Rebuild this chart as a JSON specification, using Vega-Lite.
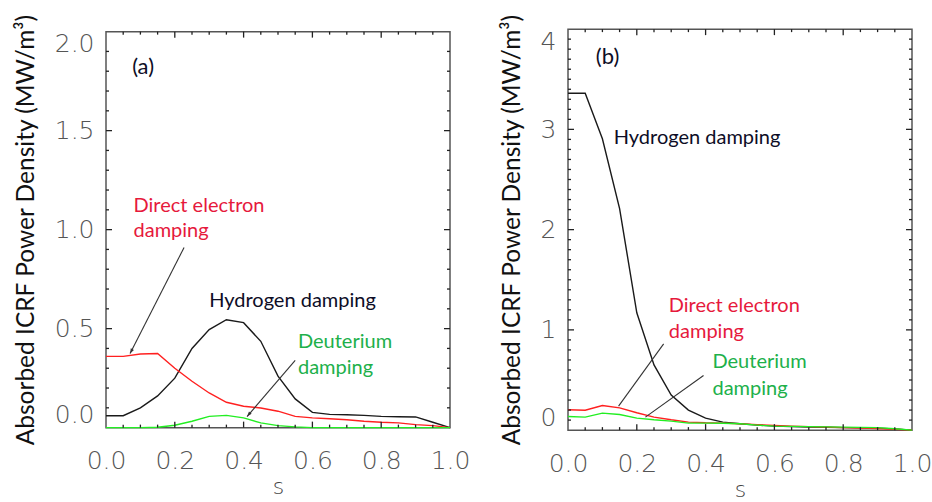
{
  "$schema": "https://vega.github.io/schema/vega-lite/v6.json",
  "background": "white",
  "padding": {"left": 12, "top": 12, "right": 5, "bottom": 0},
  "spacing": 27,
  "center": true,
  "config": {
    "view": {"stroke": "#555", "strokeWidth": 1.5},
    "axis": {
      "domain": false, "grid": false, "ticks": false,
      "labelFont": "DejaVu Sans", "labelFontSize": 25, "labelFontWeight": 200, "labelColor": "#555",
      "titleFont": "Lato", "titleFontWeight": "normal", "titleColor": "#111"
    }
  },
  "datasets": {
    "xt": [
      {"s": 0.05, "k": "m"}, {"s": 0.1, "k": "m"}, {"s": 0.15, "k": "m"}, {"s": 0.2, "k": "M"}, {"s": 0.25, "k": "m"}, {"s": 0.3, "k": "m"}, {"s": 0.35, "k": "m"}, {"s": 0.4, "k": "M"}, {"s": 0.45, "k": "m"}, {"s": 0.5, "k": "m"}, {"s": 0.55, "k": "m"}, {"s": 0.6, "k": "M"}, {"s": 0.65, "k": "m"}, {"s": 0.7, "k": "m"}, {"s": 0.75, "k": "m"}, {"s": 0.8, "k": "M"}, {"s": 0.85, "k": "m"}, {"s": 0.9, "k": "m"}, {"s": 0.95, "k": "m"}
    ],
    "a_yt": [
      {"v": 0.1, "k": "m"}, {"v": 0.2, "k": "m"}, {"v": 0.3, "k": "m"}, {"v": 0.4, "k": "m"}, {"v": 0.5, "k": "M"}, {"v": 0.6, "k": "m"}, {"v": 0.7, "k": "m"}, {"v": 0.8, "k": "m"}, {"v": 0.9, "k": "m"}, {"v": 1.0, "k": "M"}, {"v": 1.1, "k": "m"}, {"v": 1.2, "k": "m"}, {"v": 1.3, "k": "m"}, {"v": 1.4, "k": "m"}, {"v": 1.5, "k": "M"}, {"v": 1.6, "k": "m"}, {"v": 1.7, "k": "m"}, {"v": 1.8, "k": "m"}, {"v": 1.9, "k": "m"}
    ],
    "b_yt": [
      {"v": 0.1, "k": "m"}, {"v": 0.2, "k": "m"}, {"v": 0.3, "k": "m"}, {"v": 0.4, "k": "m"}, {"v": 0.5, "k": "m"}, {"v": 0.6, "k": "m"}, {"v": 0.7, "k": "m"}, {"v": 0.8, "k": "m"}, {"v": 0.9, "k": "m"}, {"v": 1.0, "k": "M"},
      {"v": 1.1, "k": "m"}, {"v": 1.2, "k": "m"}, {"v": 1.3, "k": "m"}, {"v": 1.4, "k": "m"}, {"v": 1.5, "k": "m"}, {"v": 1.6, "k": "m"}, {"v": 1.7, "k": "m"}, {"v": 1.8, "k": "m"}, {"v": 1.9, "k": "m"}, {"v": 2.0, "k": "M"},
      {"v": 2.1, "k": "m"}, {"v": 2.2, "k": "m"}, {"v": 2.3, "k": "m"}, {"v": 2.4, "k": "m"}, {"v": 2.5, "k": "m"}, {"v": 2.6, "k": "m"}, {"v": 2.7, "k": "m"}, {"v": 2.8, "k": "m"}, {"v": 2.9, "k": "m"}, {"v": 3.0, "k": "M"},
      {"v": 3.1, "k": "m"}, {"v": 3.2, "k": "m"}, {"v": 3.3, "k": "m"}, {"v": 3.4, "k": "m"}, {"v": 3.5, "k": "m"}, {"v": 3.6, "k": "m"}, {"v": 3.7, "k": "m"}, {"v": 3.8, "k": "m"}, {"v": 3.9, "k": "m"}
    ],
    "a_lines": [
      {"s": 0, "v": 0.06, "series": "Hydrogen"}, {"s": 0.05, "v": 0.06, "series": "Hydrogen"}, {"s": 0.1, "v": 0.1, "series": "Hydrogen"}, {"s": 0.15, "v": 0.16, "series": "Hydrogen"}, {"s": 0.2, "v": 0.25, "series": "Hydrogen"}, {"s": 0.25, "v": 0.4, "series": "Hydrogen"}, {"s": 0.3, "v": 0.495, "series": "Hydrogen"}, {"s": 0.35, "v": 0.545, "series": "Hydrogen"}, {"s": 0.4, "v": 0.53, "series": "Hydrogen"}, {"s": 0.45, "v": 0.436, "series": "Hydrogen"}, {"s": 0.5, "v": 0.26, "series": "Hydrogen"}, {"s": 0.55, "v": 0.145, "series": "Hydrogen"}, {"s": 0.6, "v": 0.077, "series": "Hydrogen"}, {"s": 0.65, "v": 0.067, "series": "Hydrogen"}, {"s": 0.7, "v": 0.065, "series": "Hydrogen"}, {"s": 0.75, "v": 0.062, "series": "Hydrogen"}, {"s": 0.8, "v": 0.057, "series": "Hydrogen"}, {"s": 0.85, "v": 0.055, "series": "Hydrogen"}, {"s": 0.9, "v": 0.054, "series": "Hydrogen"}, {"s": 0.95, "v": 0.027, "series": "Hydrogen"}, {"s": 1.0, "v": 0.0, "series": "Hydrogen"},
      {"s": 0, "v": 0.36, "series": "Electron"}, {"s": 0.05, "v": 0.36, "series": "Electron"}, {"s": 0.1, "v": 0.372, "series": "Electron"}, {"s": 0.15, "v": 0.374, "series": "Electron"}, {"s": 0.2, "v": 0.3, "series": "Electron"}, {"s": 0.25, "v": 0.234, "series": "Electron"}, {"s": 0.3, "v": 0.175, "series": "Electron"}, {"s": 0.35, "v": 0.128, "series": "Electron"}, {"s": 0.4, "v": 0.108, "series": "Electron"}, {"s": 0.45, "v": 0.099, "series": "Electron"}, {"s": 0.5, "v": 0.083, "series": "Electron"}, {"s": 0.55, "v": 0.057, "series": "Electron"}, {"s": 0.6, "v": 0.049, "series": "Electron"}, {"s": 0.65, "v": 0.045, "series": "Electron"}, {"s": 0.7, "v": 0.04, "series": "Electron"}, {"s": 0.75, "v": 0.032, "series": "Electron"}, {"s": 0.8, "v": 0.027, "series": "Electron"}, {"s": 0.85, "v": 0.024, "series": "Electron"}, {"s": 0.9, "v": 0.015, "series": "Electron"}, {"s": 0.95, "v": 0.01, "series": "Electron"}, {"s": 1.0, "v": 0.0, "series": "Electron"},
      {"s": 0, "v": 0, "series": "Deuterium"}, {"s": 0.05, "v": 0, "series": "Deuterium"}, {"s": 0.1, "v": 0, "series": "Deuterium"}, {"s": 0.15, "v": 0.002, "series": "Deuterium"}, {"s": 0.2, "v": 0.012, "series": "Deuterium"}, {"s": 0.25, "v": 0.032, "series": "Deuterium"}, {"s": 0.3, "v": 0.057, "series": "Deuterium"}, {"s": 0.35, "v": 0.062, "series": "Deuterium"}, {"s": 0.4, "v": 0.049, "series": "Deuterium"}, {"s": 0.45, "v": 0.024, "series": "Deuterium"}, {"s": 0.5, "v": 0.01, "series": "Deuterium"}, {"s": 0.55, "v": 0.004, "series": "Deuterium"}, {"s": 0.6, "v": 0, "series": "Deuterium"}, {"s": 0.65, "v": 0, "series": "Deuterium"}, {"s": 0.7, "v": 0, "series": "Deuterium"}, {"s": 0.75, "v": 0, "series": "Deuterium"}, {"s": 0.8, "v": 0, "series": "Deuterium"}, {"s": 0.85, "v": 0, "series": "Deuterium"}, {"s": 0.9, "v": 0, "series": "Deuterium"}, {"s": 0.95, "v": 0, "series": "Deuterium"}, {"s": 1.0, "v": 0, "series": "Deuterium"}
    ],
    "b_lines": [
      {"s": 0, "v": 3.36, "series": "Hydrogen"}, {"s": 0.05, "v": 3.36, "series": "Hydrogen"}, {"s": 0.1, "v": 2.906, "series": "Hydrogen"}, {"s": 0.15, "v": 2.21, "series": "Hydrogen"}, {"s": 0.2, "v": 1.17, "series": "Hydrogen"}, {"s": 0.25, "v": 0.65, "series": "Hydrogen"}, {"s": 0.3, "v": 0.35, "series": "Hydrogen"}, {"s": 0.35, "v": 0.2, "series": "Hydrogen"}, {"s": 0.4, "v": 0.12, "series": "Hydrogen"}, {"s": 0.45, "v": 0.08, "series": "Hydrogen"}, {"s": 0.5, "v": 0.063, "series": "Hydrogen"}, {"s": 0.55, "v": 0.05, "series": "Hydrogen"}, {"s": 0.6, "v": 0.04, "series": "Hydrogen"}, {"s": 0.65, "v": 0.035, "series": "Hydrogen"}, {"s": 0.7, "v": 0.03, "series": "Hydrogen"}, {"s": 0.75, "v": 0.028, "series": "Hydrogen"}, {"s": 0.8, "v": 0.025, "series": "Hydrogen"}, {"s": 0.85, "v": 0.022, "series": "Hydrogen"}, {"s": 0.9, "v": 0.02, "series": "Hydrogen"}, {"s": 0.95, "v": 0.012, "series": "Hydrogen"}, {"s": 1.0, "v": 0, "series": "Hydrogen"},
      {"s": 0, "v": 0.203, "series": "Electron"}, {"s": 0.05, "v": 0.198, "series": "Electron"}, {"s": 0.1, "v": 0.246, "series": "Electron"}, {"s": 0.15, "v": 0.222, "series": "Electron"}, {"s": 0.2, "v": 0.173, "series": "Electron"}, {"s": 0.25, "v": 0.13, "series": "Electron"}, {"s": 0.3, "v": 0.103, "series": "Electron"}, {"s": 0.35, "v": 0.08, "series": "Electron"}, {"s": 0.4, "v": 0.073, "series": "Electron"}, {"s": 0.45, "v": 0.07, "series": "Electron"}, {"s": 0.5, "v": 0.063, "series": "Electron"}, {"s": 0.55, "v": 0.055, "series": "Electron"}, {"s": 0.6, "v": 0.047, "series": "Electron"}, {"s": 0.65, "v": 0.04, "series": "Electron"}, {"s": 0.7, "v": 0.035, "series": "Electron"}, {"s": 0.75, "v": 0.03, "series": "Electron"}, {"s": 0.8, "v": 0.025, "series": "Electron"}, {"s": 0.85, "v": 0.02, "series": "Electron"}, {"s": 0.9, "v": 0.015, "series": "Electron"}, {"s": 0.95, "v": 0.008, "series": "Electron"}, {"s": 1.0, "v": 0, "series": "Electron"},
      {"s": 0, "v": 0.136, "series": "Deuterium"}, {"s": 0.05, "v": 0.13, "series": "Deuterium"}, {"s": 0.1, "v": 0.17, "series": "Deuterium"}, {"s": 0.15, "v": 0.156, "series": "Deuterium"}, {"s": 0.2, "v": 0.12, "series": "Deuterium"}, {"s": 0.25, "v": 0.103, "series": "Deuterium"}, {"s": 0.3, "v": 0.09, "series": "Deuterium"}, {"s": 0.35, "v": 0.07, "series": "Deuterium"}, {"s": 0.4, "v": 0.07, "series": "Deuterium"}, {"s": 0.45, "v": 0.068, "series": "Deuterium"}, {"s": 0.5, "v": 0.063, "series": "Deuterium"}, {"s": 0.55, "v": 0.05, "series": "Deuterium"}, {"s": 0.6, "v": 0.04, "series": "Deuterium"}, {"s": 0.65, "v": 0.037, "series": "Deuterium"}, {"s": 0.7, "v": 0.035, "series": "Deuterium"}, {"s": 0.75, "v": 0.032, "series": "Deuterium"}, {"s": 0.8, "v": 0.03, "series": "Deuterium"}, {"s": 0.85, "v": 0.027, "series": "Deuterium"}, {"s": 0.9, "v": 0.025, "series": "Deuterium"}, {"s": 0.95, "v": 0.013, "series": "Deuterium"}, {"s": 1.0, "v": 0, "series": "Deuterium"}
    ],
    "a_panel": [{"s": 0.076, "v": 1.82, "label": "(a)"}],
    "b_panel": [{"s": 0.081, "v": 3.72, "label": "(b)"}],
    "a_text": [
      {"s": 0.08, "v": 1.12, "label": "Direct electron", "series": "Electron"},
      {"s": 0.08, "v": 0.995, "label": "damping", "series": "Electron"},
      {"s": 0.3, "v": 0.64, "label": "Hydrogen damping", "series": "Hydrogen"},
      {"s": 0.558, "v": 0.43, "label": "Deuterium", "series": "Deuterium"},
      {"s": 0.558, "v": 0.3, "label": "damping", "series": "Deuterium"}
    ],
    "b_text": [
      {"s": 0.293, "v": 1.24, "label": "Direct electron", "series": "Electron"},
      {"s": 0.293, "v": 0.98, "label": "damping", "series": "Electron"},
      {"s": 0.133, "v": 2.91, "label": "Hydrogen damping", "series": "Hydrogen"},
      {"s": 0.42, "v": 0.68, "label": "Deuterium", "series": "Deuterium"},
      {"s": 0.42, "v": 0.41, "label": "damping", "series": "Deuterium"}
    ],
    "a_arrows": [
      {"s": 0.227, "v": 0.91, "s2": 0.07, "v2": 0.374},
      {"s": 0.55, "v": 0.34, "s2": 0.41, "v2": 0.056}
    ],
    "b_arrows": [
      {"s": 0.278, "v": 0.86, "s2": 0.147, "v2": 0.24},
      {"s": 0.394, "v": 0.545, "s2": 0.225, "v2": 0.13}
    ]
  },
  "hconcat": [
    {
      "width": 344, "height": 396,
      "layer": [
        {
          "data": {"name": "a_lines"},
          "mark": {"type": "line", "strokeWidth": 1.4},
          "encoding": {
            "x": {"field": "s", "type": "quantitative", "scale": {"domain": [0, 1], "nice": false},
              "axis": {"orient": "bottom", "values": [0, 0.2, 0.4, 0.6, 0.8, 1], "format": ".1f", "labelPadding": 21, "labelFlush": false, "title": "s", "titleFont": "DejaVu Sans", "titleFontWeight": 200, "titleFontSize": 22, "titleColor": "#444", "titlePadding": 3}},
            "y": {"field": "v", "type": "quantitative", "scale": {"domain": [0, 2], "nice": false},
              "axis": {"orient": "left", "values": [0, 0.5, 1, 1.5, 2], "format": ".1f", "labelPadding": 12, "labelFlush": true, "title": "Absorbed ICRF Power Density (MW/m³)", "titleFontSize": 24.5, "titlePadding": 16}},
            "stroke": {"field": "series", "type": "nominal", "scale": {"domain": ["Hydrogen", "Electron", "Deuterium"], "range": ["#1a1a1a", "#ff2020", "#22ee22"]}, "legend": null}
          }
        },
        {
          "data": {"name": "a_text"},
          "mark": {"type": "text", "align": "left", "baseline": "middle", "font": "Lato", "fontSize": 20},
          "encoding": {
            "x": {"field": "s", "type": "quantitative"},
            "y": {"field": "v", "type": "quantitative"},
            "text": {"field": "label"},
            "fill": {"field": "series", "type": "nominal", "scale": {"domain": ["Hydrogen", "Electron", "Deuterium"], "range": ["#0d0d26", "#e6193c", "#20b04a"]}, "legend": null}
          }
        },
        {
          "data": {"name": "a_arrows"},
          "mark": {"type": "rule", "color": "#333", "strokeWidth": 1.1},
          "encoding": {
            "x": {"field": "s", "type": "quantitative"},
            "y": {"field": "v", "type": "quantitative"},
            "x2": {"field": "s2"},
            "y2": {"field": "v2"}
          }
        },
        {
          "data": {"name": "a_arrows"},
          "transform": [{"calculate": "atan2((datum.s2 - datum.s) * 344, (datum.v2 - datum.v) * 198) * 180 / PI", "as": "ang"}],
          "mark": {"type": "point", "shape": "M0,0L-0.45,1.3L0.45,1.3Z", "filled": true, "color": "#333", "size": 60, "opacity": 1},
          "encoding": {
            "x": {"field": "s2", "type": "quantitative"},
            "y": {"field": "v2", "type": "quantitative"},
            "angle": {"field": "ang", "type": "quantitative", "scale": null}
          }
        },
        {
          "data": {"name": "a_panel"},
          "mark": {"type": "text", "align": "left", "baseline": "middle", "font": "Lato", "fontSize": 22, "color": "#0d0d26"},
          "encoding": {
            "x": {"field": "s", "type": "quantitative"},
            "y": {"field": "v", "type": "quantitative"},
            "text": {"field": "label"}
          }
        },
        {"data": {"name": "xt"}, "transform": [{"filter": "datum.k == 'M'"}], "mark": {"type": "rule", "color": "#222", "strokeWidth": 1.3, "y2Offset": -6},
         "encoding": {"x": {"field": "s", "type": "quantitative"}, "y": {"datum": 0, "type": "quantitative"}, "y2": {"datum": 0}}},
        {"data": {"name": "xt"}, "transform": [{"filter": "datum.k == 'm'"}], "mark": {"type": "rule", "color": "#222", "strokeWidth": 1.3, "y2Offset": -3},
         "encoding": {"x": {"field": "s", "type": "quantitative"}, "y": {"datum": 0, "type": "quantitative"}, "y2": {"datum": 0}}},
        {"data": {"name": "xt"}, "transform": [{"filter": "datum.k == 'M'"}], "mark": {"type": "rule", "color": "#222", "strokeWidth": 1.3, "y2Offset": 6},
         "encoding": {"x": {"field": "s", "type": "quantitative"}, "y": {"datum": 2, "type": "quantitative"}, "y2": {"datum": 2}}},
        {"data": {"name": "xt"}, "transform": [{"filter": "datum.k == 'm'"}], "mark": {"type": "rule", "color": "#222", "strokeWidth": 1.3, "y2Offset": 3},
         "encoding": {"x": {"field": "s", "type": "quantitative"}, "y": {"datum": 2, "type": "quantitative"}, "y2": {"datum": 2}}},
        {"data": {"name": "a_yt"}, "transform": [{"filter": "datum.k == 'M'"}], "mark": {"type": "rule", "color": "#222", "strokeWidth": 1.3, "x2Offset": 6},
         "encoding": {"y": {"field": "v", "type": "quantitative"}, "x": {"datum": 0, "type": "quantitative"}, "x2": {"datum": 0}}},
        {"data": {"name": "a_yt"}, "transform": [{"filter": "datum.k == 'm'"}], "mark": {"type": "rule", "color": "#222", "strokeWidth": 1.3, "x2Offset": 3},
         "encoding": {"y": {"field": "v", "type": "quantitative"}, "x": {"datum": 0, "type": "quantitative"}, "x2": {"datum": 0}}},
        {"data": {"name": "a_yt"}, "transform": [{"filter": "datum.k == 'M'"}], "mark": {"type": "rule", "color": "#222", "strokeWidth": 1.3, "x2Offset": -6},
         "encoding": {"y": {"field": "v", "type": "quantitative"}, "x": {"datum": 1, "type": "quantitative"}, "x2": {"datum": 1}}},
        {"data": {"name": "a_yt"}, "transform": [{"filter": "datum.k == 'm'"}], "mark": {"type": "rule", "color": "#222", "strokeWidth": 1.3, "x2Offset": -3},
         "encoding": {"y": {"field": "v", "type": "quantitative"}, "x": {"datum": 1, "type": "quantitative"}, "x2": {"datum": 1}}}
      ]
    },
    {
      "width": 344, "height": 401,
      "layer": [
        {
          "data": {"name": "b_lines"},
          "mark": {"type": "line", "strokeWidth": 1.4},
          "encoding": {
            "x": {"field": "s", "type": "quantitative", "scale": {"domain": [0, 1], "nice": false},
              "axis": {"orient": "bottom", "values": [0, 0.2, 0.4, 0.6, 0.8, 1], "format": ".1f", "labelPadding": 21, "labelFlush": false, "title": "s", "titleFont": "DejaVu Sans", "titleFontWeight": 200, "titleFontSize": 22, "titleColor": "#444", "titlePadding": 3}},
            "y": {"field": "v", "type": "quantitative", "scale": {"domain": [0, 4], "nice": false},
              "axis": {"orient": "left", "values": [0, 1, 2, 3, 4], "format": "d", "labelPadding": 12, "labelFlush": true, "title": "Absorbed ICRF Power Density (MW/m³)", "titleFontSize": 24.5, "titlePadding": 16}},
            "stroke": {"field": "series", "type": "nominal", "scale": {"domain": ["Hydrogen", "Electron", "Deuterium"], "range": ["#1a1a1a", "#ff2020", "#22ee22"]}, "legend": null}
          }
        },
        {
          "data": {"name": "b_text"},
          "mark": {"type": "text", "align": "left", "baseline": "middle", "font": "Lato", "fontSize": 20},
          "encoding": {
            "x": {"field": "s", "type": "quantitative"},
            "y": {"field": "v", "type": "quantitative"},
            "text": {"field": "label"},
            "fill": {"field": "series", "type": "nominal", "scale": {"domain": ["Hydrogen", "Electron", "Deuterium"], "range": ["#0d0d26", "#e6193c", "#20b04a"]}, "legend": null}
          }
        },
        {
          "data": {"name": "b_arrows"},
          "mark": {"type": "rule", "color": "#333", "strokeWidth": 1.1},
          "encoding": {
            "x": {"field": "s", "type": "quantitative"},
            "y": {"field": "v", "type": "quantitative"},
            "x2": {"field": "s2"},
            "y2": {"field": "v2"}
          }
        },
        {
          "data": {"name": "b_panel"},
          "mark": {"type": "text", "align": "left", "baseline": "middle", "font": "Lato", "fontSize": 22, "color": "#0d0d26"},
          "encoding": {
            "x": {"field": "s", "type": "quantitative"},
            "y": {"field": "v", "type": "quantitative"},
            "text": {"field": "label"}
          }
        },
        {"data": {"name": "xt"}, "transform": [{"filter": "datum.k == 'M'"}], "mark": {"type": "rule", "color": "#222", "strokeWidth": 1.3, "y2Offset": -6},
         "encoding": {"x": {"field": "s", "type": "quantitative"}, "y": {"datum": 0, "type": "quantitative"}, "y2": {"datum": 0}}},
        {"data": {"name": "xt"}, "transform": [{"filter": "datum.k == 'm'"}], "mark": {"type": "rule", "color": "#222", "strokeWidth": 1.3, "y2Offset": -3},
         "encoding": {"x": {"field": "s", "type": "quantitative"}, "y": {"datum": 0, "type": "quantitative"}, "y2": {"datum": 0}}},
        {"data": {"name": "xt"}, "transform": [{"filter": "datum.k == 'M'"}], "mark": {"type": "rule", "color": "#222", "strokeWidth": 1.3, "y2Offset": 6},
         "encoding": {"x": {"field": "s", "type": "quantitative"}, "y": {"datum": 4, "type": "quantitative"}, "y2": {"datum": 4}}},
        {"data": {"name": "xt"}, "transform": [{"filter": "datum.k == 'm'"}], "mark": {"type": "rule", "color": "#222", "strokeWidth": 1.3, "y2Offset": 3},
         "encoding": {"x": {"field": "s", "type": "quantitative"}, "y": {"datum": 4, "type": "quantitative"}, "y2": {"datum": 4}}},
        {"data": {"name": "b_yt"}, "transform": [{"filter": "datum.k == 'M'"}], "mark": {"type": "rule", "color": "#222", "strokeWidth": 1.3, "x2Offset": 6},
         "encoding": {"y": {"field": "v", "type": "quantitative"}, "x": {"datum": 0, "type": "quantitative"}, "x2": {"datum": 0}}},
        {"data": {"name": "b_yt"}, "transform": [{"filter": "datum.k == 'm'"}], "mark": {"type": "rule", "color": "#222", "strokeWidth": 1.3, "x2Offset": 3},
         "encoding": {"y": {"field": "v", "type": "quantitative"}, "x": {"datum": 0, "type": "quantitative"}, "x2": {"datum": 0}}},
        {"data": {"name": "b_yt"}, "transform": [{"filter": "datum.k == 'M'"}], "mark": {"type": "rule", "color": "#222", "strokeWidth": 1.3, "x2Offset": -6},
         "encoding": {"y": {"field": "v", "type": "quantitative"}, "x": {"datum": 1, "type": "quantitative"}, "x2": {"datum": 1}}},
        {"data": {"name": "b_yt"}, "transform": [{"filter": "datum.k == 'm'"}], "mark": {"type": "rule", "color": "#222", "strokeWidth": 1.3, "x2Offset": -3},
         "encoding": {"y": {"field": "v", "type": "quantitative"}, "x": {"datum": 1, "type": "quantitative"}, "x2": {"datum": 1}}}
      ]
    }
  ]
}
